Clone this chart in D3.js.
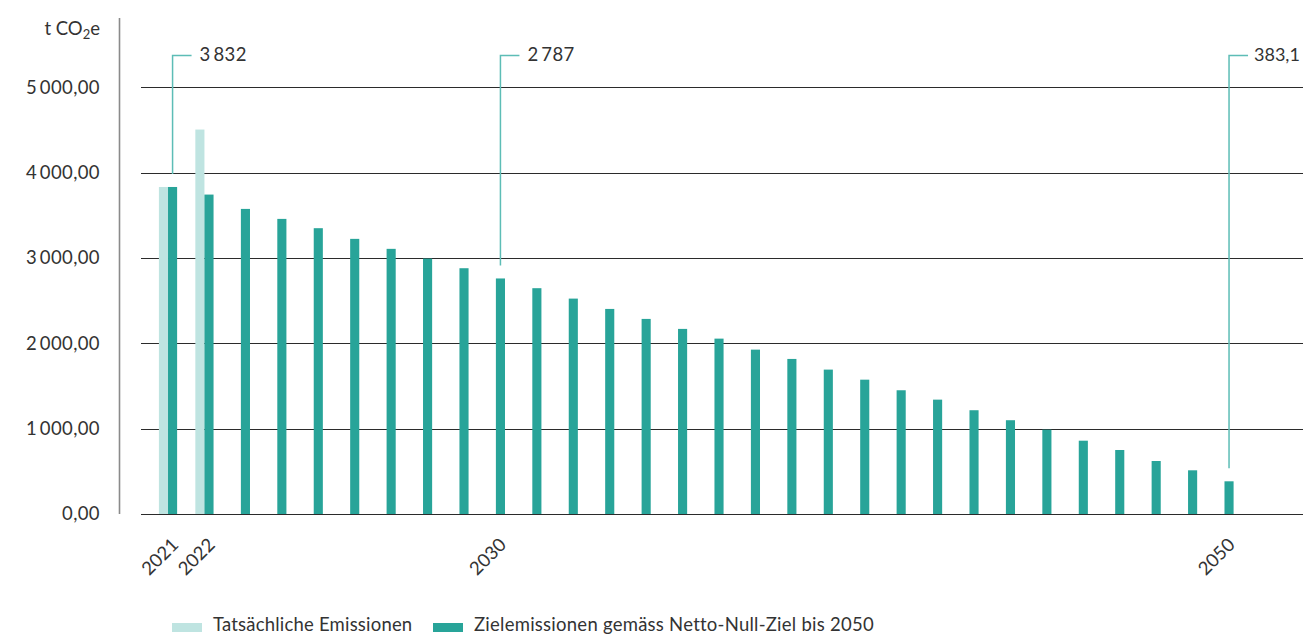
<!DOCTYPE html>
<html><head><meta charset="utf-8">
<script src="https://cdn.jsdelivr.net/npm/d3@7"></script>
<style>
html,body{margin:0;padding:0;background:#fff;}
svg{display:block;font-family:Lato, "Open Sans", sans-serif;}
</style></head>
<body>
<svg id="c" width="1303" height="636"></svg>
<script>
const years = [2021,2022,2023,2024,2025,2026,2027,2028,2029,2030,2031,2032,2033,2034,2035,2036,2037,2038,2039,2040,2041,2042,2043,2044,2045,2046,2047,2048,2049,2050];
const targetValues = [3832,3743,3575,3458,3349,3224,3107,2993,2880,2760,2646,2524,2403,2286,2169,2055,1926,1817,1692,1574,1450,1340,1216,1099,988,859,750,621,512,383.1];
const actualYears = [2021,2022];
const actualValues = [3832,4505];
const tickValues = [0,1000,2000,3000,4000,5000];
const tickLabels = ["0,00","1\u2009000,00","2\u2009000,00","3\u2009000,00","4\u2009000,00","5\u2009000,00"];
const xLabelYears = [2021,2022,2030,2050];
const annotYears = [2021,2030,2050];
const annotLabels = ["3\u2009832","2\u2009787","383,1"];
const legendLabels = ["Tatsächliche Emissionen","Zielemissionen gemäss Netto-Null-Ziel bis 2050"];

const cLight = "#bfe4e1", cDark = "#28a499", cLeader = "#5dbdb6", cText = "#333";
const FS = 18.5;
const svg = d3.select("#c");

const x = d3.scaleBand().domain(years).range([149.8,1242.7]).paddingInner(0.5).paddingOuter(0.25);
const y = d3.scaleLinear().domain([0,5000]).range([514,87.3]);
const half = x.bandwidth()/2;

// gridlines
svg.append("g").selectAll("line").data(tickValues).join("line")
  .attr("x1",141).attr("x2",1303)
  .attr("y1",d=>Math.round(y(d))+0.5).attr("y2",d=>Math.round(y(d))+0.5)
  .attr("stroke","#2b2b2b").attr("stroke-width",1.2);

// y axis line
svg.append("line").attr("x1",119.5).attr("x2",119.5).attr("y1",18).attr("y2",514)
  .attr("stroke","#8a8a8a").attr("stroke-width",1.6);

// y tick labels
svg.append("g").selectAll("text").data(tickValues).join("text")
  .attr("x",100).attr("y",d=>y(d)).attr("dy","0.35em")
  .attr("text-anchor","end").attr("font-size",FS).attr("letter-spacing",0.4).attr("fill",cText)
  .text((d,i)=>tickLabels[i]);

// y title
const yt = svg.append("text").attr("x",100).attr("y",35).attr("text-anchor","end")
  .attr("font-size",FS).attr("fill",cText);
yt.append("tspan").text("t CO");
yt.append("tspan").attr("font-size",13).attr("dy",4).text("2");
yt.append("tspan").attr("dy",-4).text("e");

// actual bars
svg.append("g").selectAll("rect").data(actualYears).join("rect")
  .attr("x",d=>x(d)).attr("width",half)
  .attr("y",(d,i)=>y(actualValues[i])).attr("height",(d,i)=>y(0)-y(actualValues[i]))
  .attr("fill",cLight);

// target bars
svg.append("g").selectAll("rect").data(years).join("rect")
  .attr("x",d=>x(d)+half).attr("width",half)
  .attr("y",(d,i)=>y(targetValues[i])).attr("height",(d,i)=>y(0)-y(targetValues[i]))
  .attr("fill",cDark);

// baseline redraw
svg.append("line").attr("x1",141).attr("x2",1303).attr("y1",514.5).attr("y2",514.5)
  .attr("stroke","#2b2b2b").attr("stroke-width",1.2);

// x labels
svg.append("g").selectAll("text").data(xLabelYears).join("text")
  .attr("transform",d=>`translate(${x(d)+half*1.5+7},546) rotate(-45)`)
  .attr("text-anchor","end").attr("font-size",FS).attr("fill",cText)
  .text(d=>d);

// annotations
const ag = svg.append("g");
annotYears.forEach((yr,i)=>{
  const cx = x(yr)+half*1.5;
  const v = targetValues[years.indexOf(yr)];
  const last = i === annotYears.length-1;
  ag.append("path").attr("d",`M${cx},${y(v)-13}V55.5H${cx+19}`)
    .attr("fill","none").attr("stroke",cLeader).attr("stroke-width",1.5);
  ag.append("text").attr("x",cx+(last?25:27)).attr("y",55).attr("dy","0.35em")
    .attr("font-size",last?FS-0.5:FS).attr("letter-spacing",last?0:0.4).attr("fill",cText).text(annotLabels[i]);
});

// legend
const lg = svg.append("g");
const legX = [172,433];
const legC = [cLight,cDark];
legendLabels.forEach((t,i)=>{
  lg.append("rect").attr("x",legX[i]).attr("y",623).attr("width",30).attr("height",9).attr("fill",legC[i]);
  lg.append("text").attr("x",legX[i]+41).attr("y",631)
    .attr("font-size",FS).attr("letter-spacing",i?0.25:0.2).attr("fill",cText).text(t);
});
</script>
</body></html>
